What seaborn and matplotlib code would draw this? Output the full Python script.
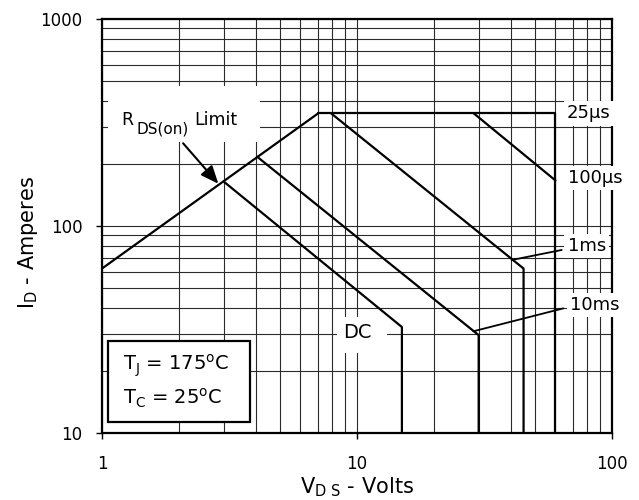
import matplotlib
matplotlib.use("Agg")
import matplotlib.pyplot as plt
from matplotlib.patches import Rectangle
from matplotlib.ticker import LogLocator, NullFormatter
import pandas as pd
import seaborn as sns

# Safe operating area boundaries: drain-source voltage (V) and drain current (A)
rds_vds = [1.0, 7.04]
rds_id = [62.3, 350.0]
t25us_vds = [7.04, 60.0, 60.0]
t25us_id = [350.0, 350.0, 10.0]
t100us_vds = [28.7, 60.0]
t100us_id = [350.0, 166.0]
t1ms_vds = [7.92, 45.0, 45.0]
t1ms_id = [350.0, 62.3, 10.0]
t10ms_vds = [4.06, 30.0, 30.0]
t10ms_id = [216.0, 29.7, 10.0]
dc_vds = [3.0, 15.0, 15.0]
dc_id = [164.0, 32.5, 10.0]

x_ticks = [1, 10, 100]
x_tick_labels = ["1", "10", "100"]
y_ticks = [10, 100, 1000]
y_tick_labels = ["10", "100", "1000"]

curves = {
    "RDS(on) limit": (rds_vds, rds_id),
    "25us": (t25us_vds, t25us_id),
    "100us": (t100us_vds, t100us_id),
    "1ms": (t1ms_vds, t1ms_id),
    "10ms": (t10ms_vds, t10ms_id),
    "DC": (dc_vds, dc_id),
}
frames = []
for name, (v, i) in curves.items():
    frames.append(pd.DataFrame({"vds": v, "id": i, "curve": name,
                                "step": list(range(len(v)))}))
soa = pd.concat(frames, ignore_index=True)

sns.set_theme(style="ticks")
plt.rcParams["font.family"] = ["DejaVu Sans"]
plt.rcParams["mathtext.default"] = "regular"
plt.rcParams["text.color"] = "black"
plt.rcParams["axes.labelcolor"] = "black"
plt.rcParams["xtick.color"] = "black"
plt.rcParams["ytick.color"] = "black"

fig = plt.figure(figsize=(6.39, 5.0), dpi=100)
ax = fig.add_axes([102 / 639, 1 - 433 / 500, 510 / 639, 414 / 500])
ax.set_xscale("log")
ax.set_yscale("log")
ax.set_xlim(1, 100)
ax.set_ylim(10, 1000)

sns.lineplot(data=soa, x="vds", y="id", units="curve", estimator=None,
             sort=False, color="black", lw=1.6, legend=False, ax=ax, zorder=2.2)

# log grid with every minor decade line
ax.xaxis.set_minor_locator(LogLocator(base=10, subs=range(2, 10)))
ax.yaxis.set_minor_locator(LogLocator(base=10, subs=range(2, 10)))
ax.xaxis.set_minor_formatter(NullFormatter())
ax.yaxis.set_minor_formatter(NullFormatter())
ax.set_xticks(x_ticks, x_tick_labels)
ax.set_yticks(y_ticks, y_tick_labels)
ax.set_axisbelow(True)
ax.grid(True, which="both", color="#2b2b2b", lw=0.8)
ax.tick_params(which="major", direction="out", length=4, width=1,
               color="black", labelcolor="black", labelsize=12)
ax.tick_params(axis="x", which="major", pad=12)
ax.tick_params(axis="y", which="major", pad=10)
ax.tick_params(which="minor", length=0)
for s in ax.spines.values():
    s.set_linewidth(1.6)
    s.set_color("black")

ax.set_xlabel(r"V$_{D\ S}$ - Volts", fontsize=15, color="black")
ax.set_ylabel(r"I$_D$ - Amperes", fontsize=15, color="black")
ax.xaxis.set_label_coords(0.5, -0.13)
ax.xaxis.label.set_verticalalignment("center")
ax.yaxis.set_label_coords(-0.145, 0.46)
ax.yaxis.label.set_verticalalignment("center")

# R_DS(on) limit label with arrow
ax.add_patch(Rectangle((0.0118, 0.703), 0.298, 0.135, transform=ax.transAxes,
                       fc="white", ec="none", zorder=1.5))
ax.text(0.0386, 0.744, "R", transform=ax.transAxes, fontsize=12.5,
        ha="left", va="baseline", zorder=3)
ax.text(0.068, 0.7246, "DS(on)", transform=ax.transAxes, fontsize=11,
        ha="left", va="baseline", zorder=3)
ax.text(0.180, 0.744, "Limit", transform=ax.transAxes, fontsize=12.5,
        ha="left", va="baseline", zorder=3)
ax.annotate("", xy=(2.86, 160), xytext=(2.08, 251),
            arrowprops=dict(arrowstyle="-|>,head_length=0.9,head_width=0.38",
                            color="black", lw=1.5, shrinkA=0, shrinkB=0),
            zorder=3)

# pulse width labels
box = dict(fc="white", ec="none", pad=2.5)
ax.text(66.6, 350, "25µs", fontsize=13, ha="left", va="center", bbox=box, zorder=3)
ax.text(67.1, 170.6, "100µs", fontsize=13, ha="left", va="center", bbox=box, zorder=3)
ax.text(67.1, 80.0, "1ms", fontsize=13, ha="left", va="center", bbox=box, zorder=3)
ax.text(68.5, 41.5, "10ms", fontsize=13, ha="left", va="center", bbox=box, zorder=3)
ax.annotate("", xy=(40.4, 68.5), xytext=(63.5, 76.6),
            arrowprops=dict(arrowstyle="-", color="black", lw=1.3,
                            shrinkA=0, shrinkB=0), zorder=3)
ax.annotate("", xy=(28.6, 31.0), xytext=(64.4, 40.0),
            arrowprops=dict(arrowstyle="-", color="black", lw=1.3,
                            shrinkA=0, shrinkB=0), zorder=3)

ax.add_patch(Rectangle((0.461, 0.193), 0.098, 0.087, transform=ax.transAxes,
                       fc="white", ec="none", zorder=1.5))
ax.text(10.0, 30.7, "DC", fontsize=14, ha="center", va="center", zorder=3)

# temperature conditions
ax.add_patch(Rectangle((0.0118, 0.0266), 0.278, 0.196, transform=ax.transAxes,
                       fc="white", ec="black", lw=1.6, zorder=2.3))
ax.text(0.041, 0.152, r"T$_J$ = 175$^o$C", transform=ax.transAxes,
        fontsize=14, ha="left", va="baseline", zorder=3)
ax.text(0.041, 0.070, r"T$_C$ = 25$^o$C", transform=ax.transAxes,
        fontsize=14, ha="left", va="baseline", zorder=3)

fig.savefig("out.png", dpi=100, facecolor="white")
